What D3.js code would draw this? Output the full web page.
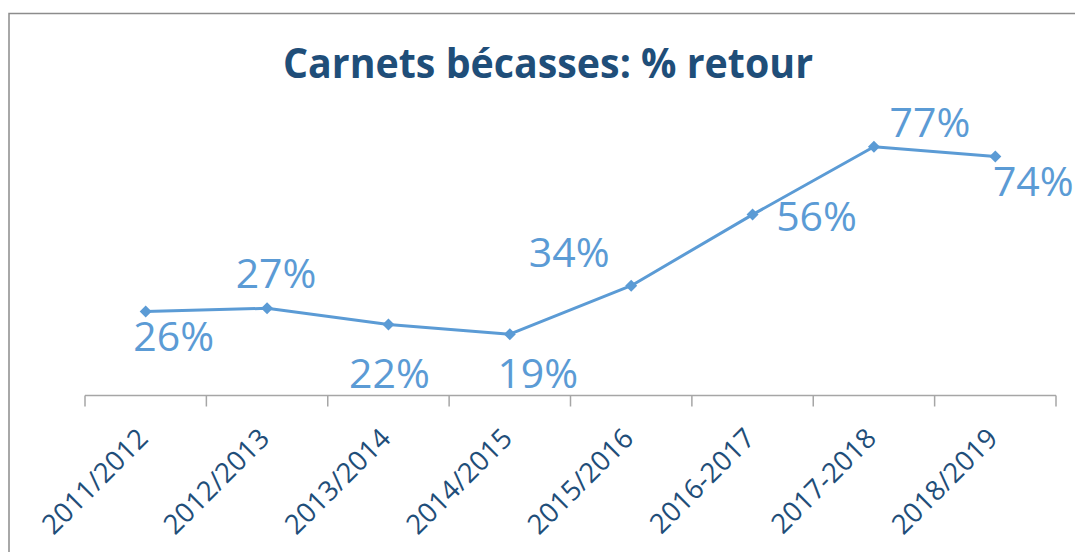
<!DOCTYPE html>
<html>
<head>
<meta charset="utf-8">
<script src="https://d3js.org/d3.v7.min.js"></script>
<style>
  body { margin: 0; background: #fff; }
  svg { display: block; }
</style>
</head>
<body>
<div id="chart"></div>
<script>

var width = 1075,
    height = 552;

// data
var seasons = ["2011/2012", "2012/2013", "2013/2014", "2014/2015",
               "2015/2016", "2016-2017", "2017-2018", "2018/2019"];
var retour = [26, 27, 22, 19, 34, 56, 77, 74];

// where each data label sits relative to its point (hand placed in the original)
var labelDx = [28, 9, 1, 28, -62, 64, 56, 38];
var labelDy = [39, -20, 64, 54, -19, 16, -10, 40];

var blue = "#5B9BD5",
    navy = "#1F4E79";

var svg = d3.select("#chart").append("svg")
    .attr("width", width)
    .attr("height", height);

// chart frame
svg.append("rect")
    .attr("x", 9)
    .attr("y", 13.5)
    .attr("width", 1200)
    .attr("height", 700)
    .attr("fill", "none")
    .attr("stroke", "#8c8c8c")
    .attr("stroke-width", 1.5);

svg.append("text")
    .attr("x", 283)
    .attr("y", 77.5)
    .attr("textLength", 530)
    .attr("lengthAdjust", "spacingAndGlyphs")
    .attr("font-family", "'Open Sans', sans-serif")
    .attr("font-weight", "bold")
    .attr("font-size", 41)
    .attr("fill", navy)
    .text("Carnets bécasses: % retour");

var x = d3.scaleBand()
    .domain(seasons)
    .range([85, 1056]);

var y = d3.scaleLinear()
    .domain([0, 100])
    .range([395.5, 72.5]);

// category axis, ticks between the categories
var axisY = y(0);
svg.append("line")
    .attr("x1", x.range()[0])
    .attr("x2", x.range()[1])
    .attr("y1", axisY)
    .attr("y2", axisY)
    .attr("stroke", "#a6a6a6")
    .attr("stroke-width", 1.5);

var tickPos = seasons.map(function(s){ return x(s); }).concat([x.range()[1]]);
svg.selectAll(".tick")
    .data(tickPos)
    .enter().append("line")
    .attr("class", "tick")
    .attr("x1", function(d){ return d; })
    .attr("x2", function(d){ return d; })
    .attr("y1", axisY)
    .attr("y2", axisY + 11)
    .attr("stroke", "#a6a6a6")
    .attr("stroke-width", 1.5);

svg.selectAll(".season")
    .data(seasons)
    .enter().append("text")
    .attr("class", "season")
    .attr("transform", function(d){
        return "translate(" + (x(d) + x.bandwidth()/2 + 4) + "," + 440 + ") rotate(-45)";
    })
    .attr("text-anchor", "end")
    .attr("font-family", "'Open Sans', sans-serif")
    .attr("font-size", 27.5)
    .attr("fill", navy)
    .text(function(d){ return d; });

var cx = function(d, i){ return x(seasons[i]) + x.bandwidth()/2; };

var line = d3.line()
    .x(cx)
    .y(function(d){ return y(d); });

svg.append("path")
    .datum(retour)
    .attr("d", line)
    .attr("fill", "none")
    .attr("stroke", blue)
    .attr("stroke-width", 3)
    .attr("stroke-linejoin", "round");

svg.selectAll(".marker")
    .data(retour)
    .enter().append("path")
    .attr("class", "marker")
    .attr("d", d3.symbol().type(d3.symbolSquare).size(72))
    .attr("transform", function(d, i){
        return "translate(" + cx(d, i) + "," + y(d) + ") rotate(45)";
    })
    .attr("fill", blue);

svg.selectAll(".label")
    .data(retour)
    .enter().append("text")
    .attr("class", "label")
    .attr("x", function(d, i){ return cx(d, i) + labelDx[i]; })
    .attr("y", function(d, i){ return y(d) + labelDy[i]; })
    .attr("text-anchor", "middle")
    .attr("font-family", "'Open Sans', sans-serif")
    .attr("font-size", 41)
    .attr("fill", blue)
    .text(function(d){ return d + "%"; });

</script>
</body>
</html>
